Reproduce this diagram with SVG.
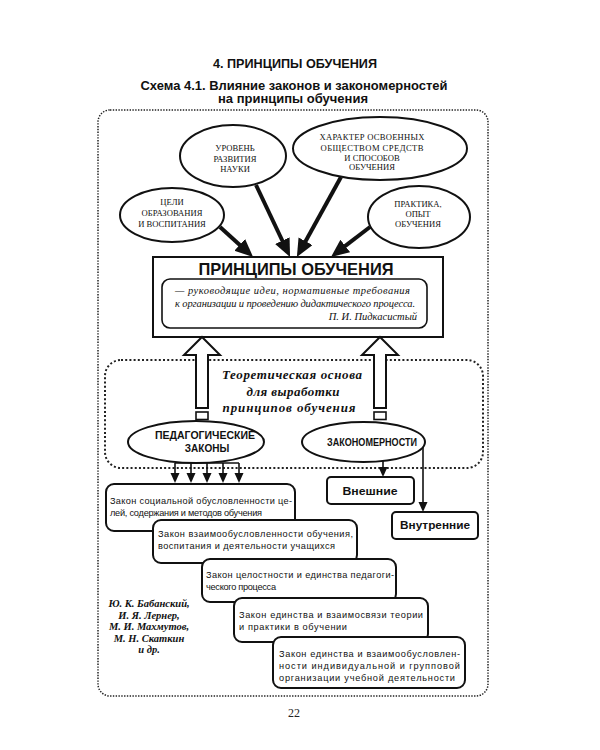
<svg xmlns="http://www.w3.org/2000/svg" width="600" height="750" viewBox="0 0 600 750">
<defs>
<style>
.bg{fill:#ffffff}
.title{font-family:"Liberation Sans",Arial,sans-serif;font-weight:bold;fill:#111;text-anchor:middle}
.eltxt{font-family:"Liberation Serif","Times New Roman",serif;font-size:8.6px;fill:#111;text-anchor:middle}
.ell{fill:#fff;stroke:#111;stroke-width:2}
.box{fill:#fff;stroke:#111;stroke-width:2}
.law{font-family:"Liberation Sans",Arial,sans-serif;font-size:9.2px;fill:#111}
.lawbox{fill:#fff;stroke:#111;stroke-width:2}
.quote{font-family:"Liberation Serif","Times New Roman",serif;font-style:italic;font-size:10.5px;fill:#111}
.theo{font-family:"Liberation Serif","Times New Roman",serif;font-style:italic;font-weight:bold;font-size:13px;fill:#111;text-anchor:middle}
.auth{font-family:"Liberation Serif","Times New Roman",serif;font-style:italic;font-weight:bold;font-size:10.5px;fill:#111;text-anchor:middle}
.bsans{font-family:"Liberation Sans",Arial,sans-serif;font-weight:bold;fill:#111;text-anchor:middle}
.dots1{fill:none;stroke:#222;stroke-width:1.5;stroke-dasharray:1.4 1.4}
.dots2{fill:none;stroke:#222;stroke-width:2;stroke-dasharray:2 2.2}
.thick{stroke:#111;stroke-width:4;fill:none}
.thin{stroke:#111;stroke-width:1.6;fill:none}
.hollow{fill:#fff;stroke:#111;stroke-width:2;stroke-linejoin:miter}
</style>
<marker id="bigHead" markerUnits="userSpaceOnUse" markerWidth="20" markerHeight="20" refX="2" refY="8" orient="auto">
<path d="M0,0 L18,8 L0,16 z" fill="#111"/>
</marker>
<marker id="smallHead" markerUnits="userSpaceOnUse" markerWidth="12" markerHeight="12" refX="2" refY="4.5" orient="auto">
<path d="M0,0 L10,4.5 L0,9 z" fill="#111"/>
</marker>
</defs>
<rect class="bg" x="0" y="0" width="600" height="750"/>

<g id="titles">
<text class="title" x="295" y="68" font-size="12.5" textLength="164" lengthAdjust="spacingAndGlyphs">4. ПРИНЦИПЫ ОБУЧЕНИЯ</text>
<text class="title" x="294" y="90" font-size="12" textLength="307" lengthAdjust="spacingAndGlyphs">Схема 4.1. Влияние законов и закономерностей</text>
<text class="title" x="293" y="103" font-size="12" textLength="150" lengthAdjust="spacingAndGlyphs">на принципы обучения</text>
</g>

<g id="frame">
<rect class="dots1" x="98" y="110" width="390" height="586" rx="12"/>
<rect class="dots2" x="105" y="360" width="378" height="108" rx="16"/>
</g>

<g id="node-uroven">
<ellipse class="ell" cx="233" cy="156" rx="53" ry="31"/>
<text class="eltxt" x="235" y="151">УРОВЕНЬ</text>
<text class="eltxt" x="235" y="161.5">РАЗВИТИЯ</text>
<text class="eltxt" x="235" y="172">НАУКИ</text>
</g>
<g id="node-harakter">
<ellipse class="ell" cx="380" cy="148.5" rx="87" ry="31.5"/>
<text class="eltxt" x="372" y="140" textLength="105">ХАРАКТЕР ОСВОЕННЫХ</text>
<text class="eltxt" x="372" y="151" textLength="103">ОБЩЕСТВОМ СРЕДСТВ</text>
<text class="eltxt" x="372" y="160.5">И СПОСОБОВ</text>
<text class="eltxt" x="372" y="170">ОБУЧЕНИЯ</text>
</g>
<g id="node-celi">
<ellipse class="ell" cx="172" cy="215" rx="52" ry="27"/>
<text class="eltxt" x="172" y="205">ЦЕЛИ</text>
<text class="eltxt" x="172" y="216">ОБРАЗОВАНИЯ</text>
<text class="eltxt" x="172" y="226.5">И ВОСПИТАНИЯ</text>
</g>
<g id="node-praktika">
<ellipse class="ell" cx="419" cy="217" rx="51" ry="31"/>
<text class="eltxt" x="418" y="206.5">ПРАКТИКА,</text>
<text class="eltxt" x="418" y="216.5">ОПЫТ</text>
<text class="eltxt" x="418" y="226.5">ОБУЧЕНИЯ</text>
</g>

<g id="node-principy">
<rect class="box" x="153" y="257" width="290" height="80"/>
<text class="title" x="296" y="275" font-size="16.5" textLength="195" lengthAdjust="spacingAndGlyphs">ПРИНЦИПЫ ОБУЧЕНИЯ</text>
<rect fill="#fff" stroke="#111" stroke-width="1.6" x="162" y="279" width="265" height="49" rx="8"/>
<text class="quote" x="175" y="294" textLength="235">— руководящие идеи, нормативные требования</text>
<text class="quote" x="175" y="307" textLength="240">к организации и проведению дидактического процесса.</text>
<text class="quote" x="417" y="320" text-anchor="end">П. И. Пидкасистый</text>
</g>

<g id="node-theory">
<text class="theo" x="292" y="379" textLength="140">Теоретическая основа</text>
<text class="theo" x="293" y="396" textLength="93">для выработки</text>
<text class="theo" x="289" y="412" textLength="133">принципов обучения</text>
</g>

<g id="node-ped">
<ellipse class="ell" cx="196" cy="442" rx="68" ry="21"/>
<text class="bsans" x="205" y="439" font-size="10" textLength="100" lengthAdjust="spacingAndGlyphs">ПЕДАГОГИЧЕСКИЕ</text>
<text class="bsans" x="207" y="452" font-size="10">ЗАКОНЫ</text>
</g>
<g id="node-zak">
<ellipse class="ell" cx="363.5" cy="442" rx="61.5" ry="20"/>
<text class="bsans" x="372" y="446" font-size="10" textLength="90" lengthAdjust="spacingAndGlyphs">ЗАКОНОМЕРНОСТИ</text>
</g>

<g id="node-vneshnie">
<rect class="lawbox" x="327" y="477" width="87" height="27" rx="4"/>
<text class="bsans" x="370" y="494.5" font-size="11" textLength="55" lengthAdjust="spacingAndGlyphs">Внешние</text>
</g>
<g id="node-vnutrennie">
<rect class="lawbox" x="392" y="512" width="86" height="27" rx="4"/>
<text class="bsans" x="435" y="529" font-size="11" textLength="70" lengthAdjust="spacingAndGlyphs">Внутренние</text>
</g>

<g id="node-law1">
<rect class="lawbox" x="106" y="484" width="189" height="47" rx="8"/>
<text class="law" x="110" y="504" textLength="182">Закон социальной обусловленности це-</text>
<text class="law" x="110" y="516" textLength="152">лей, содержания и методов обучения</text>
</g>
<g id="node-law2">
<rect class="lawbox" x="153" y="520" width="204" height="43" rx="8"/>
<text class="law" x="158" y="537" textLength="195">Закон взаимообусловленности обучения,</text>
<text class="law" x="158" y="549" textLength="177">воспитания и деятельности учащихся</text>
</g>
<g id="node-law3">
<rect class="lawbox" x="202" y="559" width="194" height="43" rx="8"/>
<text class="law" x="206" y="578" textLength="188">Закон целостности и единства педагоги-</text>
<text class="law" x="206" y="590" textLength="70">ческого процесса</text>
</g>
<g id="node-law4">
<rect class="lawbox" x="234" y="598" width="194" height="44" rx="8"/>
<text class="law" x="239" y="618" textLength="184">Закон единства и взаимосвязи теории</text>
<text class="law" x="239" y="630" textLength="108">и практики в обучении</text>
</g>
<g id="node-law5">
<rect class="lawbox" x="273" y="637" width="192" height="51" rx="8"/>
<text class="law" x="279" y="657" textLength="181">Закон единства и взаимообусловлен-</text>
<text class="law" x="279" y="669" textLength="181">ности индивидуальной и групповой</text>
<text class="law" x="279" y="680.5" textLength="176">организации учебной деятельности</text>
</g>

<g id="node-authors">
<text class="auth" x="149" y="607">Ю. К. Бабанский,</text>
<text class="auth" x="149" y="618.5">И. Я. Лернер,</text>
<text class="auth" x="149" y="630">М. И. Махмутов,</text>
<text class="auth" x="149" y="641.5">М. Н. Скаткин</text>
<text class="auth" x="149" y="653">и др.</text>
</g>

<g id="connectors">
<line class="thick" x1="220" y1="227" x2="241.2" y2="246.2" marker-end="url(#bigHead)"/>
<line class="thick" x1="256" y1="185" x2="283.2" y2="242.5" marker-end="url(#bigHead)"/>
<line class="thick" x1="341" y1="177" x2="304.6" y2="243" marker-end="url(#bigHead)"/>
<line class="thick" x1="370" y1="227" x2="343.7" y2="247.2" marker-end="url(#bigHead)"/>

<polygon class="hollow" points="202,337 220,355 208,355 208,408 196,408 196,355 184,355"/>
<rect fill="#fff" stroke="#111" stroke-width="1.6" x="196" y="412" width="12" height="7.5"/>
<polygon class="hollow" points="380,337 398,355 386,355 386,408 374,408 374,355 362,355"/>
<rect fill="#fff" stroke="#111" stroke-width="1.6" x="374" y="412" width="12" height="7.5"/>

<line class="thin" x1="175" y1="463" x2="239" y2="463"/>
<line class="thin" x1="175" y1="463" x2="175" y2="475" marker-end="url(#smallHead)"/>
<line class="thin" x1="191" y1="463" x2="191" y2="475" marker-end="url(#smallHead)"/>
<line class="thin" x1="207" y1="463" x2="207" y2="475" marker-end="url(#smallHead)"/>
<line class="thin" x1="223" y1="463" x2="223" y2="475" marker-end="url(#smallHead)"/>
<line class="thin" x1="239" y1="463" x2="239" y2="475" marker-end="url(#smallHead)"/>

<line class="thin" x1="383" y1="461" x2="383" y2="469" marker-end="url(#smallHead)"/>
<line class="thin" x1="423" y1="447" x2="423" y2="504" marker-end="url(#smallHead)"/>
</g>

<g id="page-number">
<text x="294" y="717" font-family="Liberation Serif,Times New Roman,serif" font-size="12" fill="#222" text-anchor="middle">22</text>
</g>
</svg>
